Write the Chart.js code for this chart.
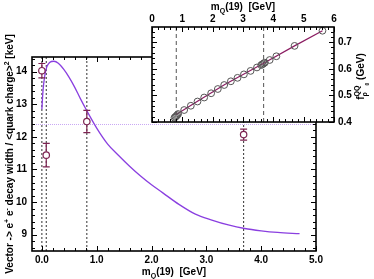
<!DOCTYPE html>
<html>
<head>
<meta charset="utf-8">
<script src="https://cdn.jsdelivr.net/npm/chart.js@4.4.1/dist/chart.umd.min.js"></script>
<style>
  html, body { margin: 0; padding: 0; background: #fff; }
  #wrap { position: relative; width: 374px; height: 279px; }
  #mainChart { position: absolute; left: 0; top: 0; }
  #insetChart { position: absolute; left: 140px; top: 0; }
</style>
</head>
<body>
<div id="wrap">
  <canvas id="mainChart" width="374" height="279"></canvas>
  <canvas id="insetChart" width="234" height="135"></canvas>
</div>
<script>
// main panel: decay width vs m_Q(19)
const curveX = [0.0, 0.02, 0.05, 0.09, 0.14, 0.22, 0.3, 0.4, 0.5, 0.6, 0.7, 0.82, 1.0, 1.2, 1.4, 1.6, 1.8, 2.0, 2.2, 2.5, 2.8, 3.1, 3.4, 3.7, 4.0, 4.3, 4.7];
const curveY = [12.85, 13.4, 13.85, 14.15, 14.28, 14.32, 14.26, 14.07, 13.82, 13.52, 13.18, 12.8, 12.27, 11.78, 11.43, 11.1, 10.8, 10.53, 10.29, 9.93, 9.63, 9.45, 9.3, 9.19, 9.12, 9.07, 9.03];
const pointX = [0.0, 0.08, 0.82, 3.68];
const pointY = [14.03, 11.44, 12.47, 12.07];
const pointErr = [0.22, 0.36, 0.34, 0.17];
const markerX = [0.0, 0.08, 0.82, 3.68];
const refLevel = 12.38;
const xTicks = [0, 1, 2, 3, 4, 5];
const yTicks = [9, 10, 11, 12, 13, 14];

// inset: f_rho0^QQ vs m_Q(19)
const insetX = [0.74, 0.77, 0.8, 0.83, 0.86, 1.06, 1.28, 1.5, 1.72, 1.95, 2.17, 2.38, 2.6, 2.82, 3.03, 3.25, 3.46, 3.6, 3.64, 3.68, 3.72, 3.88, 4.1, 4.7, 5.62];
const insetY = [0.416, 0.419, 0.422, 0.426, 0.43, 0.445, 0.461, 0.477, 0.492, 0.508, 0.524, 0.539, 0.553, 0.566, 0.579, 0.592, 0.605, 0.614, 0.617, 0.62, 0.623, 0.633, 0.647, 0.686, 0.743];
const fitX = [0.8, 1.5, 2.4, 3.68, 4.7, 5.62];
const fitY = [0.428, 0.478, 0.541, 0.621, 0.686, 0.743];
const insetMarkerX = [0.8, 3.68];
const insetXTicks = [0, 1, 2, 3, 4, 5, 6];
const insetYTicks = [0.4, 0.5, 0.6, 0.7];

const FONT = "'Liberation Sans', Arial, Helvetica, sans-serif";
const tickFont = { family: FONT, size: 10, weight: "bold" };

const toXY = (xs, ys) => xs.map((x, i) => ({ x, y: ys[i] }));

// text with sub/superscripts; each part is placed after the previous one
function drawRich(ctx, parts, cx, cy, angle) {
  ctx.save();
  ctx.translate(cx, cy);
  ctx.rotate(angle);
  ctx.textAlign = "left";
  ctx.textBaseline = "alphabetic";
  ctx.fillStyle = "#000";
  const widths = parts.map((p) => {
    ctx.font = `bold ${p.size || 10}px ${FONT}`;
    return ctx.measureText(p.t).width;
  });
  const starts = [];
  let x = 0;
  parts.forEach((p, i) => {
    // "over" parts sit under the previous part instead of after it
    const x0 = p.over ? starts[i - 1] : x;
    starts.push(x0);
    x = Math.max(x, x0 + widths[i]);
  });
  const offset = -x / 2;
  parts.forEach((p, i) => {
    ctx.font = `bold ${p.size || 10}px ${FONT}`;
    ctx.fillText(p.t, offset + starts[i], p.dy || 0);
  });
  ctx.restore();
}

function framePlugin(minorX, minorY, major, minor) {
  return {
    id: "frame",
    beforeDraw(chart) {
      const { ctx, chartArea: a } = chart;
      ctx.save();
      ctx.fillStyle = "#fff";
      ctx.fillRect(a.left, a.top, a.width, a.height);
      ctx.restore();
    },
    afterDraw(chart) {
      const { ctx, chartArea: a, scales: { x, y } } = chart;
      ctx.save();
      ctx.strokeStyle = "#000";
      ctx.lineWidth = 1;
      ctx.beginPath();
      const xMajor = x.ticks.map((t) => t.value);
      const yMajor = y.ticks.map((t) => t.value);
      for (let v = Math.ceil(x.min / minorX - 1e-6) * minorX; v <= x.max + 1e-9; v += minorX) {
        const len = xMajor.some((m) => Math.abs(m - v) < 1e-6) ? major : minor;
        const px = Math.round(x.getPixelForValue(v)) + 0.5;
        ctx.moveTo(px, a.bottom); ctx.lineTo(px, a.bottom - len);
        ctx.moveTo(px, a.top); ctx.lineTo(px, a.top + len);
      }
      for (let v = Math.ceil(y.min / minorY - 1e-6) * minorY; v <= y.max + 1e-9; v += minorY) {
        const len = yMajor.some((m) => Math.abs(m - v) < 1e-6) ? major : minor;
        const py = Math.round(y.getPixelForValue(v)) + 0.5;
        ctx.moveTo(a.left, py); ctx.lineTo(a.left + len, py);
        ctx.moveTo(a.right, py); ctx.lineTo(a.right - len, py);
      }
      ctx.stroke();
      ctx.lineWidth = 1.6;
      ctx.strokeRect(a.left, a.top, a.width, a.height);
      ctx.restore();
    }
  };
}

const errorBarPlugin = {
  id: "errorBars",
  afterDatasetsDraw(chart) {
    const { ctx, scales: { x, y } } = chart;
    ctx.save();
    ctx.strokeStyle = "#7d2452";
    ctx.lineWidth = 1.2;
    pointX.forEach((vx, i) => {
      const px = x.getPixelForValue(vx);
      const top = y.getPixelForValue(pointY[i] + pointErr[i]);
      const bot = y.getPixelForValue(pointY[i] - pointErr[i]);
      const mid = y.getPixelForValue(pointY[i]);
      ctx.beginPath();
      ctx.moveTo(px, top); ctx.lineTo(px, mid - 3.5);
      ctx.moveTo(px, mid + 3.5); ctx.lineTo(px, bot);
      ctx.moveTo(px - 3.5, top); ctx.lineTo(px + 3.5, top);
      ctx.moveTo(px - 3.5, bot); ctx.lineTo(px + 3.5, bot);
      ctx.stroke();
    });
    ctx.restore();
  }
};

const mainTitles = {
  id: "mainTitles",
  afterDraw(chart) {
    const { ctx, chartArea: a } = chart;
    drawRich(ctx, [
      { t: "m" }, { t: "Q", size: 7, dy: 3 }, { t: "(19)  [GeV]" }
    ], (a.left + a.right) / 2, 275, 0);
    drawRich(ctx, [
      { t: "Vector -> e" }, { t: "+", size: 7, dy: -4 }, { t: " e" }, { t: "-", size: 7, dy: -4 },
      { t: " decay width / <quark charge>" }, { t: "2", size: 7, dy: -4 }, { t: " [keV]" }
    ], 12.5, (a.top + a.bottom) / 2, -Math.PI / 2);
  }
};

const insetTitles = {
  id: "insetTitles",
  afterDraw(chart) {
    const { ctx, chartArea: a } = chart;
    drawRich(ctx, [
      { t: "m" }, { t: "Q", size: 7, dy: 3 }, { t: "(19)  [GeV]" }
    ], (a.left + a.right) / 2, 10, 0);
    drawRich(ctx, [
      { t: "f" }, { t: "QQ", size: 7, dy: -5 }, { t: "\u03c1", size: 7, dy: 3, over: true },
      { t: "0", size: 5, dy: 5 }, { t: " (GeV)" }
    ], 224, (a.top + a.bottom) / 2 + 2, -Math.PI / 2);
  }
};

new Chart(document.getElementById("mainChart"), {
  type: "line",
  data: {
    datasets: [
      {
        data: toXY(pointX, pointY),
        showLine: false,
        pointStyle: "circle",
        pointRadius: 3.2,
        backgroundColor: "#fff",
        borderColor: "#7d2452",
        borderWidth: 1.2
      },
      {
        data: toXY(curveX, curveY),
        borderColor: "#8a3fe0",
        borderWidth: 1.3,
        pointRadius: 0,
        cubicInterpolationMode: "monotone"
      },
      {
        data: [{ x: -0.18, y: refLevel }, { x: 5.0, y: refLevel }],
        borderColor: "#c9a8f4",
        borderWidth: 1,
        borderDash: [1, 1],
        pointRadius: 0
      },
      ...markerX.map((vx) => ({
        data: [{ x: vx, y: 8.5 }, { x: vx, y: 14.45 }],
        borderColor: "#333",
        borderWidth: 1,
        borderDash: [2, 2],
        pointRadius: 0
      }))
    ]
  },
  options: {
    animation: false,
    responsive: false,
    events: [],
    layout: { padding: { top: 57, right: 58, left: 0, bottom: 0 } },
    plugins: { legend: { display: false }, tooltip: { enabled: false } },
    scales: {
      x: {
        type: "linear",
        min: -0.18,
        max: 5.0,
        afterBuildTicks: (axis) => { axis.ticks = xTicks.map((value) => ({ value })); },
        afterFit: (axis) => { axis.height = 28; },
        grid: { display: false, drawTicks: false },
        border: { display: false },
        ticks: { font: tickFont, color: "#000", padding: 3, maxRotation: 0, callback: (v) => Number(v).toFixed(1) }
      },
      y: {
        min: 8.5,
        max: 14.45,
        afterBuildTicks: (axis) => { axis.ticks = yTicks.map((value) => ({ value })); },
        afterFit: (axis) => { axis.width = 32; },
        grid: { display: false, drawTicks: false },
        border: { display: false },
        ticks: { font: tickFont, color: "#000", padding: 5 }
      }
    }
  },
  plugins: [framePlugin(0.2, 0.2, 5, 3), errorBarPlugin, mainTitles]
});

new Chart(document.getElementById("insetChart"), {
  type: "line",
  data: {
    datasets: [
      {
        data: toXY(insetX, insetY),
        showLine: false,
        pointStyle: "circle",
        pointRadius: 3.4,
        backgroundColor: "rgba(255,255,255,0)",
        borderColor: "#555",
        borderWidth: 1
      },
      {
        data: toXY(fitX, fitY),
        borderColor: "#8b1d62",
        borderWidth: 1.2,
        pointRadius: 0
      },
      ...insetMarkerX.map((vx) => ({
        data: [{ x: vx, y: 0.4 }, { x: vx, y: 0.757 }],
        borderColor: "#555",
        borderWidth: 1,
        borderDash: [4, 3],
        pointRadius: 0
      }))
    ]
  },
  options: {
    animation: false,
    responsive: false,
    events: [],
    layout: { padding: { top: 0, right: 0, left: 12, bottom: 13 } },
    plugins: { legend: { display: false }, tooltip: { enabled: false } },
    scales: {
      x: {
        type: "linear",
        position: "top",
        min: 0,
        max: 6,
        afterBuildTicks: (axis) => { axis.ticks = insetXTicks.map((value) => ({ value })); },
        afterFit: (axis) => { axis.height = 27; },
        grid: { display: false, drawTicks: false },
        border: { display: false },
        ticks: { font: tickFont, color: "#000", padding: 2, maxRotation: 0 }
      },
      y: {
        position: "right",
        min: 0.4,
        max: 0.757,
        afterBuildTicks: (axis) => { axis.ticks = insetYTicks.map((value) => ({ value })); },
        afterFit: (axis) => { axis.width = 40; },
        grid: { display: false, drawTicks: false },
        border: { display: false },
        ticks: { font: tickFont, color: "#000", padding: 4, callback: (v) => Number(v).toFixed(1) }
      }
    }
  },
  plugins: [framePlugin(0.2, 0.02, 5, 3), insetTitles]
});
</script>
</body>
</html>
